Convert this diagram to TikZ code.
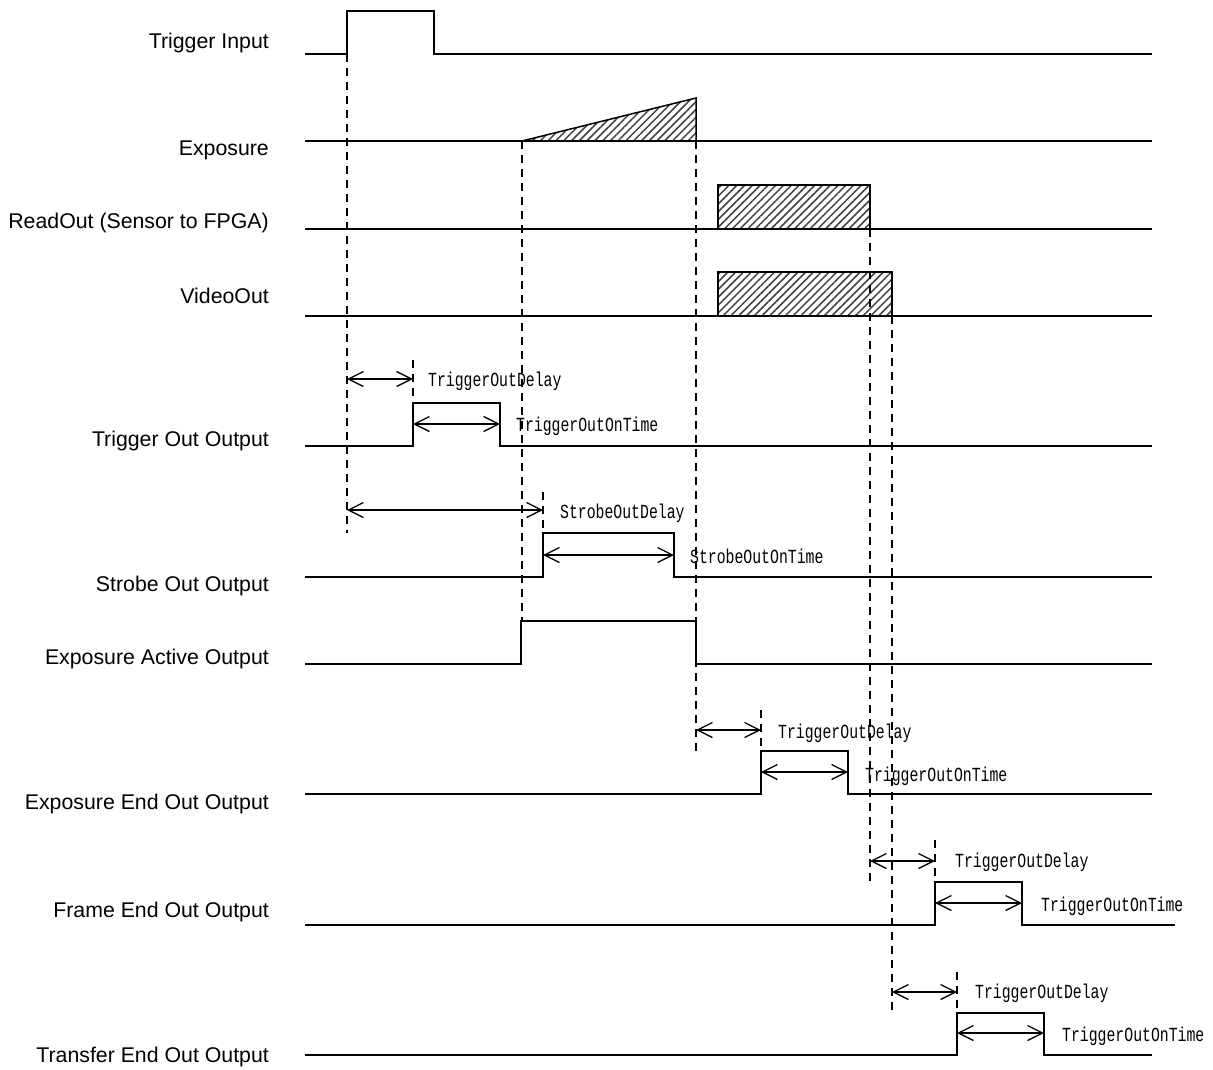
\documentclass[tikz,border=0pt]{standalone}
\usepackage{fontspec}
\setmainfont{Liberation Sans}
\newfontfamily\monofont[FakeStretch=0.74]{Liberation Mono}
\usetikzlibrary{arrows.meta,patterns.meta}
\tikzset{
  sig/.style={line width=1.5pt},
  guide/.style={line width=1.5pt,dash pattern=on 8pt off 6pt},
  span/.style={line width=1.3pt,{Straight Barb[length=15pt,width=15pt]}-{Straight Barb[length=15pt,width=15pt]}},
  lbl/.style={anchor=east,font=\fontsize{21.3}{25}\selectfont,inner sep=0pt},
  tlbl/.style={anchor=west,font=\monofont\fontsize{20}{24}\selectfont,inner sep=0pt},
  hatch/.style={pattern={Lines[angle=45,distance=5.5pt,line width=1.5pt]},pattern color=black!75}
}
\begin{document}
\begin{tikzpicture}[x=1pt,y=-1pt]
\useasboundingbox (0,0) rectangle (1213,1070);

% signal names
\node[lbl] (nTrigIn) at (269,43) {Trigger Input};
\node[lbl] (nExpo) at (269,150) {Exposure};
\node[lbl] (nRead) at (269,223) {ReadOut (Sensor to FPGA)};
\node[lbl] (nVideo) at (269,296) {VideoOut};
\node[lbl] (nTrigOut) at (269,441) {Trigger Out Output};
\node[lbl] (nStrobe) at (269,586) {Strobe Out Output};
\node[lbl] (nExpAct) at (269,659) {Exposure Active Output};
\node[lbl] (nExpEnd) at (269,804) {Exposure End Out Output};
\node[lbl] (nFrame) at (269,912) {Frame End Out Output};
\node[lbl] (nXfer) at (269,1057) {Transfer End Out Output};

% waveforms
\draw[sig] (305,54) -- (347,54) -- (347,11) -- (434,11) -- (434,54) -- (1152,54);

\draw[sig] (305,141) -- (1152,141);
\draw[sig,hatch] (522,141) -- (696,98) -- (696,141) -- cycle;

\draw[sig] (305,229) -- (1152,229);
\draw[sig,hatch] (718,185) rectangle (870,229);

\draw[sig] (305,316) -- (1152,316);
\draw[sig,hatch] (718,272) rectangle (892,316);

\draw[sig] (305,446) -- (413,446) -- (413,403) -- (500,403) -- (500,446) -- (1152,446);
\draw[sig] (305,577) -- (543,577) -- (543,533) -- (674,533) -- (674,577) -- (1152,577);
\draw[sig] (305,664) -- (521,664) -- (521,621) -- (696,621) -- (696,664) -- (1152,664);
\draw[sig] (305,794) -- (761,794) -- (761,751) -- (848,751) -- (848,794) -- (1152,794);
\draw[sig] (305,925) -- (935,925) -- (935,882) -- (1022,882) -- (1022,925) -- (1175,925);
\draw[sig] (305,1055) -- (957,1055) -- (957,1013) -- (1044,1013) -- (1044,1055) -- (1152,1055);

% guide lines
\draw[guide] (347,54) -- (347,533);
\draw[guide] (413,360) -- (413,403);
\draw[guide] (522,141) -- (522,621);
\draw[guide] (543,492) -- (543,533);
\draw[guide] (696,141) -- (696,751);
\draw[guide] (761,710) -- (761,751);
\draw[guide] (870,229) -- (870,882);
\draw[guide] (892,316) -- (892,1013);
\draw[guide] (935,840) -- (935,882);
\draw[guide] (957,972) -- (957,1013);

% Trigger Out
\coordinate (toA) at (347,379);
\coordinate (toB) at (413,379);
\coordinate (toC) at (413,424);
\coordinate (toD) at (500,424);
\draw[span] (toA) -- (toB);
\draw[span] (toC) -- (toD);
\node[tlbl] (toDelay) at (428,381) {TriggerOutDelay};
\node[tlbl] (toOn) at (516,426) {TriggerOutOnTime};

% Strobe Out
\coordinate (soA) at (347,510);
\coordinate (soB) at (543,510);
\coordinate (soC) at (543,555);
\coordinate (soD) at (674,555);
\draw[span] (soA) -- (soB);
\draw[span] (soC) -- (soD);
\node[tlbl] (soDelay) at (560,513) {StrobeOutDelay};
\node[tlbl] (soOn) at (690,556) {StrobeOutOnTime};

% Exposure End Out
\coordinate (eeA) at (696,730);
\coordinate (eeB) at (761,730);
\coordinate (eeC) at (761,772);
\coordinate (eeD) at (848,772);
\draw[span] (eeA) -- (eeB);
\draw[span] (eeC) -- (eeD);
\node[tlbl] (eeDelay) at (778,733) {TriggerOutDelay};
\node[tlbl] (eeOn) at (865,776) {TriggerOutOnTime};

% Frame End Out
\coordinate (feA) at (870,861);
\coordinate (feB) at (935,861);
\coordinate (feC) at (935,903);
\coordinate (feD) at (1022,903);
\draw[span] (feA) -- (feB);
\draw[span] (feC) -- (feD);
\node[tlbl] (feDelay) at (955,862) {TriggerOutDelay};
\node[tlbl] (feOn) at (1041,906) {TriggerOutOnTime};

% Transfer End Out
\coordinate (xeA) at (892,992);
\coordinate (xeB) at (957,992);
\coordinate (xeC) at (957,1033);
\coordinate (xeD) at (1044,1033);
\draw[span] (xeA) -- (xeB);
\draw[span] (xeC) -- (xeD);
\node[tlbl] (xeDelay) at (975,993) {TriggerOutDelay};
\node[tlbl] (xeOn) at (1062,1036) {TriggerOutOnTime};

\end{tikzpicture}
\end{document}
